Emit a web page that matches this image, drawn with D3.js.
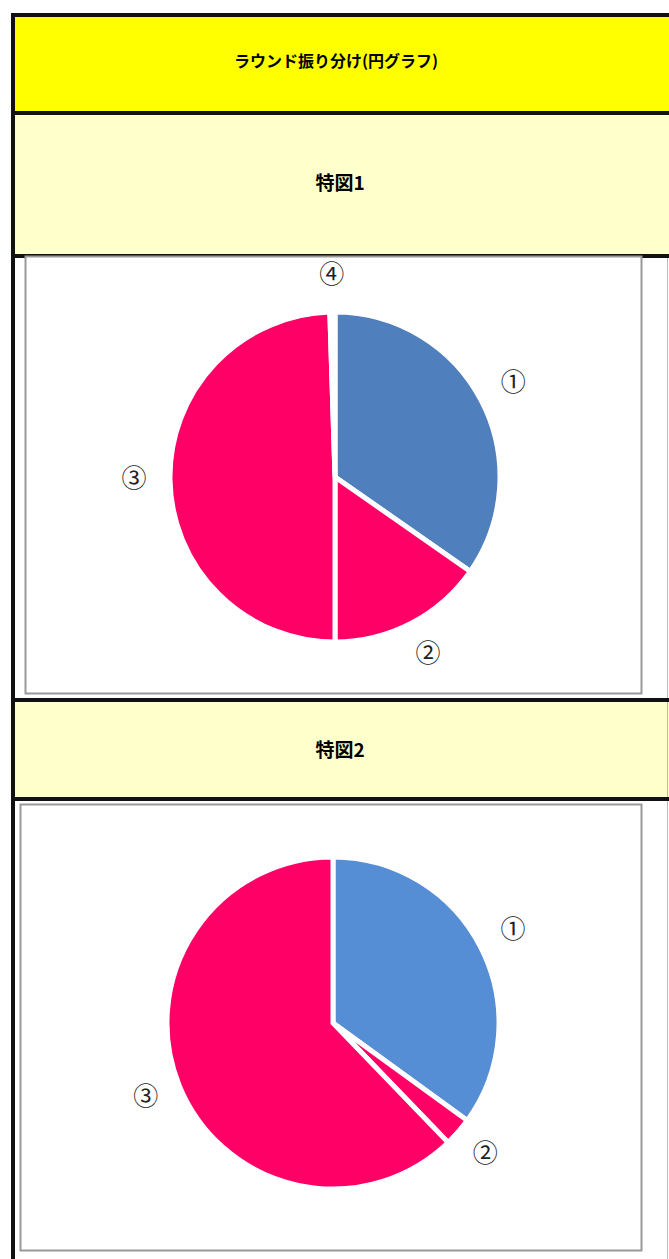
<!DOCTYPE html>
<html>
<head>
<meta charset="utf-8">
<script src="https://cdn.jsdelivr.net/npm/d3@7"></script>
<style>
  body { margin: 0; background: #fff; }
  svg { display: block; }
  text { font-family: "Noto Sans CJK JP", "Noto Sans", sans-serif; }
</style>
</head>
<body>
<div id="graph"></div>
<script>
// --- data ---
const pageTitle = "ラウンド振り分け(円グラフ)";
const chartTitles = ["特図1", "特図2"];
const labels1 = ["①", "②", "③", "④"];
const values1 = [34.7, 15.3, 49.5, 0.5];
const labels2 = ["①", "②", "③"];
const values2 = [35.0, 2.8, 62.2];

(function() {
    const width = 669, height = 1259;
    const svg = d3.select("#graph").append("svg")
      .attr("width", width)
      .attr("height", height);

    const black = "#111";

    // table background cells
    const rows = [
        {y0: 17, y1: 111, fill: "#ffff00"},
        {y0: 115, y1: 254, fill: "#ffffcc"},
        {y0: 702, y1: 797, fill: "#ffffcc"}
    ];
    svg.selectAll(".cell").data(rows).enter().append("rect")
      .attr("class", "cell")
      .attr("x", 15).attr("y", d => d.y0)
      .attr("width", width - 15).attr("height", d => d.y1 - d.y0)
      .attr("fill", d => d.fill);

    // thin right cell edge
    svg.append("line")
      .attr("x1", 667.5).attr("x2", 667.5).attr("y1", 258).attr("y2", 1259)
      .attr("stroke", "#bbb");

    // black rules
    const rules = [13, 111, 254, 698, 797];
    svg.selectAll(".rule").data(rules).enter().append("rect")
      .attr("class", "rule")
      .attr("x", 11).attr("y", d => d)
      .attr("width", width - 11).attr("height", 4)
      .attr("fill", black);
    svg.append("rect")
      .attr("x", 11).attr("y", 13).attr("width", 4).attr("height", height - 13)
      .attr("fill", black);

    // headings
    svg.append("text")
      .attr("x", 336).attr("y", 63)
      .attr("text-anchor", "middle").attr("dominant-baseline", "middle")
      .attr("font-size", 16).attr("font-weight", 700)
      .text(pageTitle);

    const titleY = [185, 752];
    svg.selectAll(".ctitle").data(chartTitles).enter().append("text")
      .attr("class", "ctitle")
      .attr("x", 340).attr("y", (d, i) => titleY[i])
      .attr("text-anchor", "middle").attr("dominant-baseline", "middle")
      .attr("font-size", 19).attr("font-weight", 700)
      .text(d => d);

    const pie = d3.pie().sort(null);

    const drawPie = (box, cx, cy, r, labels, values, colors) => {
        // chart image frame
        svg.append("rect")
          .attr("x", box.x + 0.5).attr("y", box.y + 0.5)
          .attr("width", box.w).attr("height", box.h)
          .attr("fill", "#fff").attr("stroke", "#999").attr("stroke-width", 2);

        const g = svg.append("g").attr("transform", `translate(${cx},${cy})`);
        const arc = d3.arc().innerRadius(0).outerRadius(r);
        const labelArc = d3.arc().innerRadius(r + 36).outerRadius(r + 36);
        const arcs = pie(values);

        g.selectAll("path").data(arcs).enter().append("path")
          .attr("d", arc)
          .attr("fill", (d, i) => colors[i])
          .attr("stroke", "#fff")
          .attr("stroke-width", 5)
          .attr("stroke-linejoin", "miter");

        g.selectAll("text").data(arcs).enter().append("text")
          .attr("transform", d => `translate(${labelArc.centroid(d)})`)
          .attr("text-anchor", "middle").attr("dominant-baseline", "middle")
          .attr("font-size", 25).attr("fill", "#222")
          .text((d, i) => labels[i]);
    };

    drawPie({x: 25, y: 256, w: 616, h: 437}, 335, 477, 165, labels1, values1,
        ["#4f7fbc", "#ff0066", "#ff0066", "#ff0066"]);
    drawPie({x: 20, y: 804, w: 621, h: 446}, 333, 1023, 166, labels2, values2,
        ["#558ed5", "#ff0066", "#ff0066"]);
})();
</script>
</body>
</html>
